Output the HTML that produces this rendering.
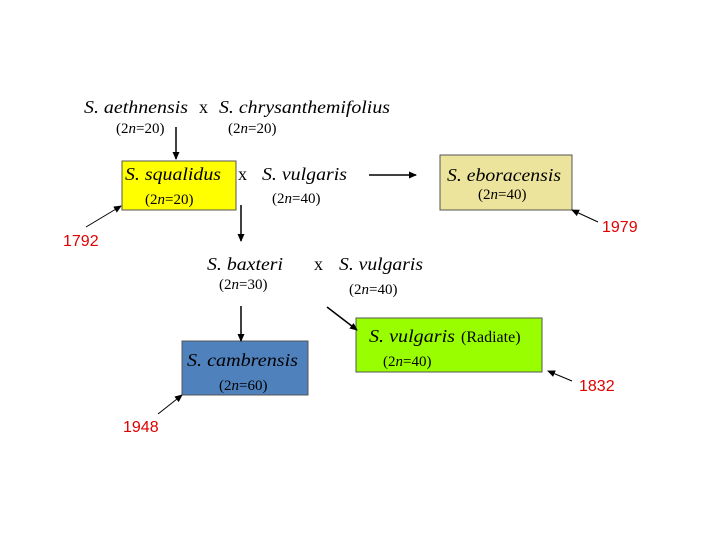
<!DOCTYPE html>
<html><head><style>body{margin:0;background:#fff}svg{display:block}</style></head><body>
<svg width="720" height="540" xmlns="http://www.w3.org/2000/svg" font-family="Liberation Serif, serif">
<defs><marker id="a" markerWidth="8" markerHeight="8" refX="7" refY="4" orient="auto" markerUnits="userSpaceOnUse"><path d="M0,0.5 L8,4 L0,7.5z" fill="#000"/></marker></defs>
<rect x="122" y="161" width="114" height="49" fill="#ffff00" stroke="#555" stroke-width="1"/>
<rect x="440" y="155" width="132" height="55" fill="#ece49c" stroke="#555" stroke-width="1"/>
<rect x="182" y="341" width="126" height="54" fill="#4f81bd" stroke="#555" stroke-width="1"/>
<rect x="356" y="318" width="186" height="54" fill="#99ff00" stroke="#555" stroke-width="1"/>
<g fill="#000" font-size="18" font-style="italic">
<text x="84" y="113" textLength="104" lengthAdjust="spacingAndGlyphs">S. aethnensis</text>
<text x="219" y="113" textLength="171" lengthAdjust="spacingAndGlyphs">S. chrysanthemifolius</text>
<text x="125" y="180" textLength="96" lengthAdjust="spacingAndGlyphs">S. squalidus</text>
<text x="262" y="180" textLength="85" lengthAdjust="spacingAndGlyphs">S. vulgaris</text>
<text x="447" y="181" textLength="114" lengthAdjust="spacingAndGlyphs">S. eboracensis</text>
<text x="207" y="270" textLength="76" lengthAdjust="spacingAndGlyphs">S. baxteri</text>
<text x="339" y="270" textLength="84" lengthAdjust="spacingAndGlyphs">S. vulgaris</text>
<text x="187" y="366" textLength="111" lengthAdjust="spacingAndGlyphs">S. cambrensis</text>
<text x="369" y="342" textLength="86" lengthAdjust="spacingAndGlyphs">S. vulgaris</text>
</g>
<g fill="#000" font-size="18">
<text x="199" y="113">x</text>
<text x="238" y="180">x</text>
<text x="314" y="270">x</text>
<text x="461" y="342" font-size="16">(Radiate)</text>
</g>
<g fill="#000" font-size="15">
<text x="116" y="133">(2<tspan font-style="italic">n</tspan>=20)</text>
<text x="228" y="133">(2<tspan font-style="italic">n</tspan>=20)</text>
<text x="145" y="204">(2<tspan font-style="italic">n</tspan>=20)</text>
<text x="272" y="203">(2<tspan font-style="italic">n</tspan>=40)</text>
<text x="478" y="199">(2<tspan font-style="italic">n</tspan>=40)</text>
<text x="219" y="289">(2<tspan font-style="italic">n</tspan>=30)</text>
<text x="349" y="294">(2<tspan font-style="italic">n</tspan>=40)</text>
<text x="219" y="390">(2<tspan font-style="italic">n</tspan>=60)</text>
<text x="383" y="366">(2<tspan font-style="italic">n</tspan>=40)</text>
</g>
<g fill="#e00000" font-family="Liberation Sans, sans-serif" font-size="16">
<text x="63" y="246">1792</text>
<text x="602" y="232">1979</text>
<text x="579" y="391">1832</text>
<text x="123" y="432">1948</text>
</g>
<g stroke="#000" stroke-width="1.5" marker-end="url(#a)">
<line x1="176" y1="127" x2="176" y2="159"/>
<line x1="241" y1="205" x2="241" y2="241"/>
<line x1="369" y1="175" x2="416" y2="175"/>
<line x1="241" y1="306" x2="241" y2="341"/>
<line x1="327" y1="307" x2="357" y2="330"/>
</g>
<g stroke="#000" stroke-width="1" marker-end="url(#a)">
<line x1="86" y1="227" x2="121" y2="206"/>
<line x1="598" y1="222" x2="572" y2="210"/>
<line x1="572" y1="381" x2="548" y2="371"/>
<line x1="158" y1="414" x2="182" y2="395"/>
</g>
</svg>
</body></html>
